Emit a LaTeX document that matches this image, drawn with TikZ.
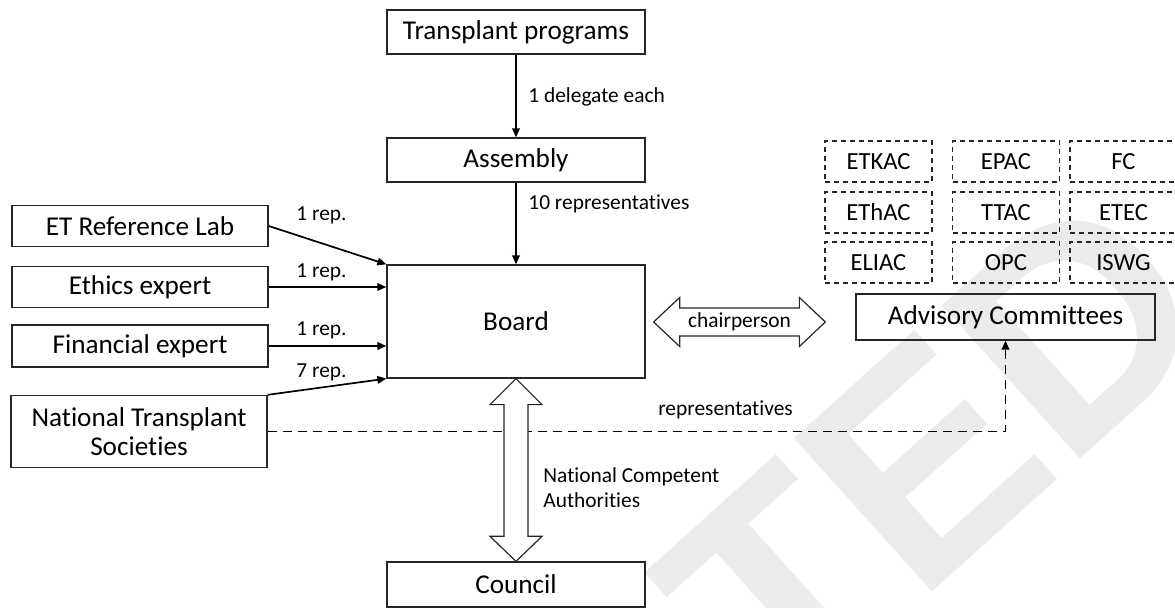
\documentclass[tikz,border=0pt]{standalone}
\usepackage{fontspec}
\setmainfont{Carlito}[Ligatures=NoCommon]
\newfontfamily\wmfont{Liberation Sans}
\usetikzlibrary{arrows.meta,calc}

\begin{document}
\begin{tikzpicture}[x=0.5pt,y=-0.5pt,
	box/.style={draw=black!85,line width=0.65pt,inner sep=0pt,align=center,font=\fontsize{13.6}{14.5}\selectfont},
	cmt_box/.style={draw=black!85,line width=0.6pt,dash pattern=on 2.5pt off 2pt,minimum width=53.5pt,minimum height=20.5pt,inner sep=0pt,font=\fontsize{12.3}{14}\selectfont},
	lbl/.style={inner sep=0pt,font=\fontsize{10.7}{12.5}\selectfont},
	link/.style={line width=0.85pt,-{Triangle[length=4.5pt,width=3.8pt]}},
	rep_link/.style={link,line width=0.95pt,dash pattern=on 4.5pt off 3pt},
	fat_arrow/.style={draw=black!85,line width=0.6pt,fill=white,line join=miter}]
		
		\useasboundingbox (0,0) rectangle (1175,608);
		
		% watermark
		\node[rotate=42,anchor=east,inner sep=0pt,text=black!8,font=\wmfont\bfseries\fontsize{150}{150}\selectfont] (wm) at (1158,250) {ACCEPTED};
		
		% central chain
		\node[box,minimum width=129pt,minimum height=22pt] (tp) at (516,32) {Transplant programs};
		\node[box,minimum width=129pt,minimum height=22pt] (asm) at (516,160) {Assembly};
		\node[box,minimum width=129pt,minimum height=56.5pt] (board) at (516,321.5) {Board};
		\node[box,minimum width=129pt,minimum height=22.5pt] (council) at (516,584.5) {Council};
		
		% members
		\node[box,minimum width=128pt,minimum height=20.5pt] (lab) at (140,226) {ET Reference Lab};
		\node[box,minimum width=128pt,minimum height=20.5pt] (ethics) at (140,287) {Ethics expert};
		\node[box,minimum width=128pt,minimum height=21pt] (fin) at (140,346) {Financial expert};
		\node[box,minimum width=128pt,minimum height=36pt] (nts) at (139,431.5) {National Transplant\\Societies};
		
		% committees
		\node[box,minimum width=149.5pt,minimum height=23pt] (adv) at (1005.5,317) {Advisory Committees};
		\foreach \cx/\ta/\tb/\tc in {878.5/ETKAC/EThAC/ELIAC, 1006/EPAC/TTAC/OPC, 1123.5/FC/ETEC/ISWG}{
			\node[cmt_box] (\ta) at (\cx,161.5) {\ta};
			\node[cmt_box] (\tb) at (\cx,212.5) {\tb};
			\node[cmt_box] (\tc) at (\cx,262.5) {\tc};
		}
		
		% labels
		\node[lbl,anchor=west] (l_del) at (528,97) {1 delegate each};
		\node[lbl,anchor=west] (l_ten) at (528,204) {10 representatives};
		\node[lbl,anchor=west] (l_lab) at (296,215) {1 rep.};
		\node[lbl,anchor=west] (l_eth) at (296,272) {1 rep.};
		\node[lbl,anchor=west] (l_fin) at (296,330) {1 rep.};
		\node[lbl,anchor=west] (l_nts) at (296,372) {7 rep.};
		\node[lbl] (l_reps) at (725.5,410) {representatives};
		\node[lbl,anchor=west,align=left] (l_nca) at (543,487.5) {National Competent\\Authorities};
		
		\draw[link] (tp) -- (asm);
		\draw[link] (asm) -- (board);
		
		\draw[link] (lab.east) -- (board.north west);
		\draw[link] (ethics.east) -- (ethics.east -| board.west);
		\draw[link] (fin.east) -- (fin.east -| board.west);
		\draw[link] (nts.north east) -- (board.south west);
		
		\draw[rep_link] (nts.east) -| (adv.south);
		
		% board <-> council
		\draw[fat_arrow] (board.south) -- ++(26,26) -- ++(-14,0) -- ($(council.north)+(12,-25)$) -- ++(14,0) -- (council.north) -- ++(-26,-25) -- ++(14,0) -- ($(board.south)+(-12,26)$) -- ++(-14,0) -- cycle;
		
		% board <-> advisory committees
		\coordinate (ch_l) at ($(board.east)+(8,0.5)$);
		\coordinate (ch_r) at ($(adv.west)+(-30,5)$);
		\draw[fat_arrow] (ch_l) -- ++(26,-24.5) -- ++(0,10.5) -- ($(ch_r)+(-26,-14)$) -- ++(0,-10.5) -- (ch_r) -- ++(-26,24.5) -- ++(0,-10.5) -- ($(ch_l)+(26,14)$) -- ++(0,10.5) -- cycle;
		\node[lbl] (l_chair) at ($(ch_l)!0.5!(ch_r)$) {chairperson};
		
		\end{tikzpicture}
\end{document}
